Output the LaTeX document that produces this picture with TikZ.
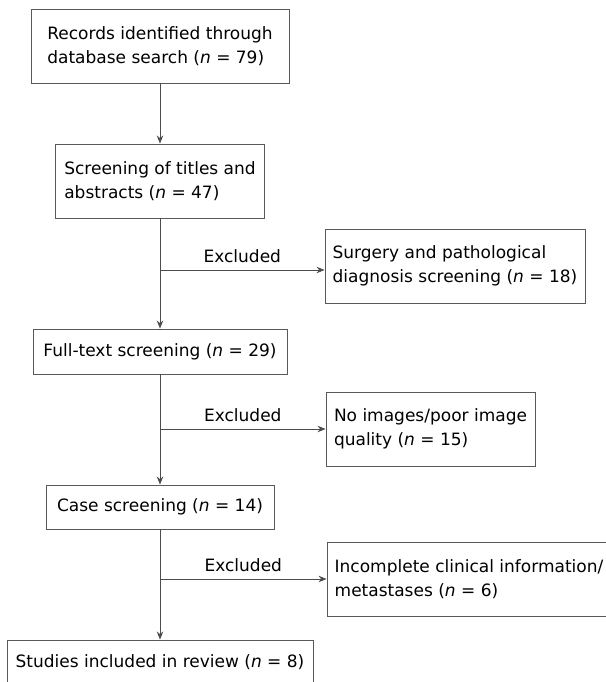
\documentclass[tikz,border=0pt]{standalone}
\usepackage{fontspec}
\setmainfont{DejaVu Sans}
\usetikzlibrary{arrows.meta,positioning,calc}

\begin{document}
\begin{tikzpicture}[
    x=1pt, y=-1pt,
    % Node styles
    stage/.style={draw=black!65, line width=0.9pt, align=left, inner sep=0pt, font=\fontsize{17}{24.5}\selectfont},
    arrow/.style={-{Stealth[length=8pt,width=6.5pt]}, draw=black!70, line width=0.9pt},
    excl/.style={font=\fontsize{17}{20}\selectfont, inner sep=0pt, above=7pt}
]
\useasboundingbox (0,0) rectangle (605,682);

% Main flow (left column)
\node[stage, minimum width=258pt, minimum height=74pt] (records) at (160,46) {Records identified through\\database search (\textit{n} = 79)};
\node[stage, minimum width=209pt, minimum height=74pt] (titles) at (160,181) {Screening of titles and\\abstracts (\textit{n} = 47)};
\node[stage, minimum width=254pt, minimum height=45pt] (fulltext) at (160,351.5) {Full-text screening (\textit{n} = 29)};
\node[stage, minimum width=228pt, minimum height=44pt] (cases) at (160,507) {Case screening (\textit{n} = 14)};
\node[stage, minimum width=306pt, minimum height=44pt] (studies) at (160,662) {Studies included in review (\textit{n} = 8)};

% Exclusions (right column)
\node[stage, minimum width=260pt, minimum height=74pt] (surgery) at (455,266) {Surgery and pathological\\diagnosis screening (\textit{n} = 18)};
\node[stage, minimum width=209pt, minimum height=74pt] (images) at (430.5,429) {No images/poor image\\quality (\textit{n} = 15)};
\node[stage, minimum width=284pt, minimum height=74pt] (incomplete) at (469,579) {Incomplete clinical information/\\metastases (\textit{n} = 6)};

% Branch points on the main line
\coordinate (split1) at (160,270);
\coordinate (split2) at (160,429);
\coordinate (split3) at (160,579);

% Arrows down the main line
\draw[arrow] (records) -- (titles);
\draw[arrow] (titles) -- (fulltext);
\draw[arrow] (fulltext) -- (cases);
\draw[arrow] (cases) -- (studies);

% Arrows to the excluded records
\draw[arrow] (split1) -- (split1 -| surgery.west) node[excl, midway] (excl1) {Excluded};
\draw[arrow] (split2) -- (split2 -| images.west) node[excl, midway] (excl2) {Excluded};
\draw[arrow] (split3) -- (split3 -| incomplete.west) node[excl, midway] (excl3) {Excluded};

\end{tikzpicture}
\end{document}
